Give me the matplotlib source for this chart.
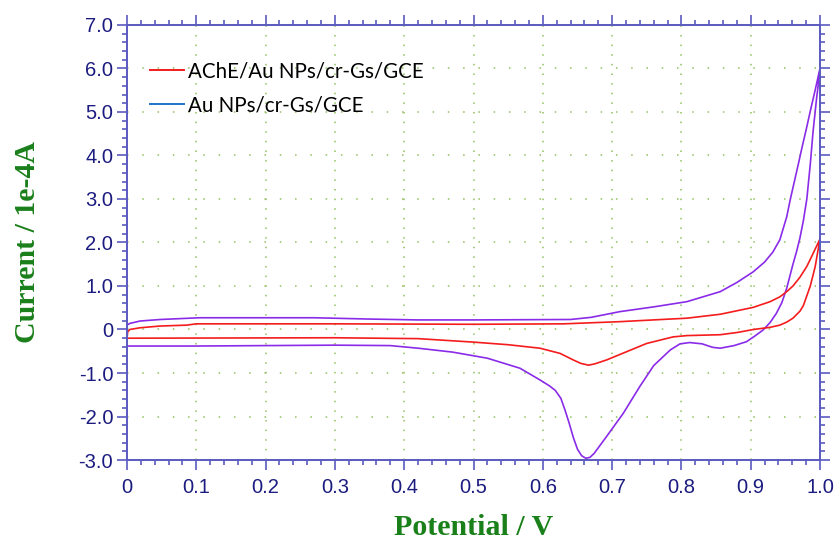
import matplotlib
matplotlib.use('Agg')
import matplotlib.pyplot as plt
from matplotlib.lines import Line2D
from matplotlib.ticker import MultipleLocator, FuncFormatter

# Au NPs/cr-Gs/GCE (anodic sweep, then cathodic sweep)
au_fwd_x = [0.0, 0.004, 0.019, 0.048, 0.105, 0.2, 0.27, 0.35, 0.42, 0.5, 0.64, 0.67,
            0.711, 0.76, 0.808, 0.856, 0.88, 0.904, 0.92, 0.932, 0.942, 0.952, 0.957,
            0.963, 0.969, 0.974, 0.981, 0.986, 0.993, 0.998, 1.0]
au_fwd_y = [0.10, 0.14, 0.195, 0.23, 0.27, 0.27, 0.27, 0.24, 0.22, 0.22, 0.23, 0.28,
            0.41, 0.52, 0.64, 0.87, 1.08, 1.33, 1.55, 1.78, 2.06, 2.59, 2.98,
            3.40, 3.82, 4.18, 4.66, 5.02, 5.50, 5.86, 6.0]
au_rev_x = [1.0, 0.995, 0.99, 0.986, 0.981, 0.976, 0.971, 0.966, 0.961, 0.952, 0.945,
            0.937, 0.928, 0.918, 0.906, 0.894, 0.876, 0.856, 0.845, 0.83, 0.812, 0.798,
            0.784, 0.76, 0.74, 0.716, 0.692, 0.68, 0.674, 0.668, 0.662, 0.656, 0.65,
            0.644, 0.638, 0.632, 0.626, 0.618, 0.61, 0.596, 0.567, 0.52, 0.47, 0.42,
            0.38, 0.3, 0.2, 0.1, 0.0]
au_rev_y = [5.95, 5.30, 4.55, 3.80, 3.00, 2.50, 2.10, 1.78, 1.50, 0.95, 0.62,
            0.37, 0.16, -0.01, -0.15, -0.28, -0.37, -0.43, -0.41, -0.33, -0.30, -0.33,
            -0.47, -0.83, -1.31, -1.93, -2.46, -2.72, -2.85, -2.94, -2.96, -2.90, -2.75,
            -2.48, -2.15, -1.85, -1.58, -1.40, -1.30, -1.16, -0.89, -0.66, -0.52, -0.43,
            -0.37, -0.36, -0.37, -0.38, -0.38]

# AChE/Au NPs/cr-Gs/GCE
ache_fwd_x = [0.0, 0.001, 0.004, 0.019, 0.048, 0.086, 0.1, 0.3, 0.5, 0.63, 0.711, 0.808,
              0.856, 0.904, 0.928, 0.942, 0.952, 0.961, 0.971, 0.981, 0.988, 0.994, 1.0]
ache_fwd_y = [-0.20, -0.05, 0.0, 0.04, 0.08, 0.10, 0.13, 0.13, 0.12, 0.13, 0.18, 0.26,
              0.35, 0.51, 0.64, 0.75, 0.87, 1.00, 1.20, 1.45, 1.68, 1.88, 2.08]
ache_rev_x = [1.0, 0.993, 0.986, 0.976, 0.971, 0.961, 0.952, 0.942, 0.928, 0.904, 0.88,
              0.856, 0.808, 0.788, 0.75, 0.721, 0.692, 0.675, 0.666, 0.655, 0.644, 0.625,
              0.596, 0.55, 0.5, 0.45, 0.42, 0.3, 0.0]
ache_rev_y = [2.08, 1.44, 1.0, 0.55, 0.42, 0.26, 0.17, 0.10, 0.05, 0.0, -0.07,
              -0.12, -0.14, -0.17, -0.32, -0.51, -0.70, -0.79, -0.82, -0.78, -0.70, -0.55,
              -0.43, -0.35, -0.29, -0.24, -0.21, -0.19, -0.20]

labels = ['AChE/Au NPs/cr-Gs/GCE', 'Au NPs/cr-Gs/GCE']

axis_col = '#5a5ac0'
tick_col = '#1c1c80'
label_col = '#1a801a'
grid_col = '#92c060'

fig = plt.figure(figsize=(8.34, 5.49), dpi=100)
ax = fig.add_axes([0.1523, 0.1621, 0.8309, 0.7924])

ax.plot(au_fwd_x + au_rev_x, au_fwd_y + au_rev_y, color='#8a2be8', lw=1.2)
ax.plot(ache_fwd_x + ache_rev_x, ache_fwd_y + ache_rev_y, color='#f41c1c', lw=1.2)

ax.set_xlim(0, 1.0)
ax.set_ylim(-3.0, 7.0)
ax.xaxis.set_major_locator(MultipleLocator(0.1))
ax.xaxis.set_minor_locator(MultipleLocator(0.02))
ax.yaxis.set_major_locator(MultipleLocator(1.0))
ax.yaxis.set_minor_locator(MultipleLocator(0.2))

fmt = FuncFormatter(lambda v, p: '0' if abs(v) < 1e-9 else '%.1f' % v)
ax.xaxis.set_major_formatter(fmt)
ax.yaxis.set_major_formatter(fmt)

# dotted grid, dots roughly at minor-tick spacing
ax.xaxis.grid(True, which='major', color=grid_col, lw=1.1, linestyle=(0, (1.0, 5.3)))
ax.yaxis.grid(True, which='major', color=grid_col, lw=1.1, linestyle=(0, (1.0, 9.0)))
ax.set_axisbelow(True)

for s in ax.spines.values():
    s.set_color(axis_col)
    s.set_linewidth(1.4)

ax.tick_params(which='both', direction='out', top=True, right=True,
               color=axis_col, labelcolor=tick_col, width=1.2)
ax.tick_params(which='major', length=7, labelsize=14.5)
ax.tick_params(axis='x', which='major', pad=6)
ax.tick_params(axis='y', which='major', pad=3)
ax.tick_params(which='minor', length=3.5)
for t in ax.get_xticklabels() + ax.get_yticklabels():
    t.set_fontfamily('Liberation Sans')

ax.set_xlabel('Potential / V', fontsize=21.5, fontweight='bold', color=label_col,
              family='Liberation Serif', labelpad=12)
ax.set_ylabel('Current / 1e-4A', fontsize=21.5, fontweight='bold', color=label_col,
              family='Liberation Serif', labelpad=27)

handles = [Line2D([], [], color='#f41c1c', lw=1.4), Line2D([], [], color='#1e74cc', lw=1.4)]
ax.legend(handles, labels, loc='upper left', bbox_to_anchor=(0.033, 0.917), frameon=False,
          prop={'family': 'Lato', 'size': 14.8}, handlelength=1.65, handletextpad=0.2,
          labelspacing=0.7, borderpad=0, borderaxespad=0)

fig.savefig('out.png', dpi=100)
